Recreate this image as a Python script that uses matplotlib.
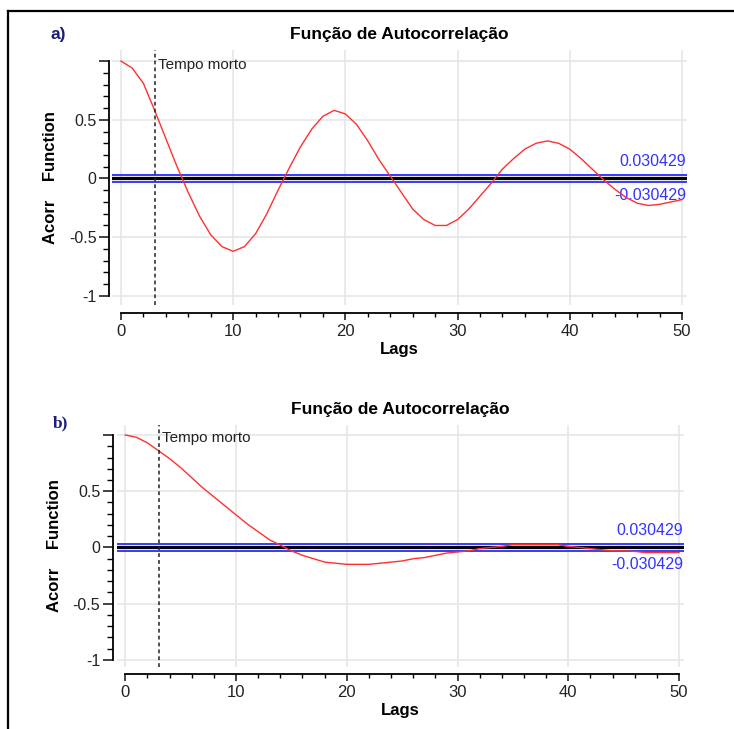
import matplotlib
matplotlib.use("Agg")
import matplotlib.pyplot as plt
from matplotlib.lines import Line2D
from matplotlib.ticker import MultipleLocator, FixedLocator
import numpy as np

plt.rcParams['font.family'] = ['Liberation Sans', 'DejaVu Sans']

lags = np.arange(0, 51)

acf_a = [1.00, 0.94, 0.81, 0.58, 0.34, 0.10, -0.12, -0.32, -0.48, -0.58,
         -0.62, -0.58, -0.47, -0.30, -0.10, 0.09, 0.27, 0.42, 0.53, 0.58,
         0.55, 0.46, 0.32, 0.16, 0.02, -0.12, -0.26, -0.35, -0.40, -0.40,
         -0.35, -0.26, -0.15, -0.04, 0.08, 0.17, 0.25, 0.30, 0.32, 0.30,
         0.25, 0.17, 0.08, -0.01, -0.09, -0.16, -0.21, -0.23, -0.22, -0.20,
         -0.18]

acf_b = [1.00, 0.98, 0.93, 0.86, 0.79, 0.71, 0.62, 0.53, 0.45, 0.37,
         0.29, 0.21, 0.14, 0.07, 0.02, -0.03, -0.07, -0.10, -0.13, -0.14,
         -0.15, -0.15, -0.15, -0.14, -0.13, -0.12, -0.10, -0.09, -0.07, -0.05,
         -0.04, -0.03, -0.01, 0.00, 0.01, 0.025, 0.025, 0.025, 0.025, 0.025,
         0.01, 0.0, -0.01, -0.02, -0.03, -0.03, -0.035, -0.045, -0.045, -0.045,
         -0.045]

conf = 0.030429
dead_time = 3
title = "Função de Autocorrelação"
xticks = [0, 10, 20, 30, 40, 50]
yticks = [-1, -0.5, 0, 0.5, 1]
ytick_labels = ["-1", "-0.5", "0", "0.5", ""]

fig = plt.figure(figsize=(7.34, 7.29), dpi=100)

# frame (top + left only)
fig.add_artist(Line2D([8/734, 1], [1 - 11/729, 1 - 11/729], color='black', lw=1.6))
fig.add_artist(Line2D([8/734, 8/734], [0, 1 - 11/729], color='black', lw=1.6))


def draw_panel(rect, acf, ylim, xlim, out_left, out_bottom, letter, letter_pos, letter_font):
    ax = fig.add_axes(rect)
    ax.set_xlim(*xlim)
    ax.set_ylim(*ylim)

    ax.grid(True, color='#e6e6e6', lw=1.2)
    ax.set_axisbelow(True)
    ax.xaxis.set_major_locator(FixedLocator(xticks))
    ax.xaxis.set_minor_locator(FixedLocator(np.arange(0, 51, 2)))
    ax.yaxis.set_major_locator(FixedLocator(yticks))
    ax.yaxis.set_minor_locator(FixedLocator(np.arange(-10, 11) / 10))
    ax.set_yticklabels(ytick_labels)
    ax.set_xticklabels([str(t) for t in xticks])

    for s in ['top', 'right']:
        ax.spines[s].set_visible(False)
    ax.spines['left'].set_bounds(-1, 1)
    ax.spines['left'].set_position(('outward', out_left))
    ax.spines['bottom'].set_bounds(0, 50)
    ax.spines['bottom'].set_position(('outward', out_bottom))
    ax.spines['left'].set_linewidth(1.3)
    ax.spines['bottom'].set_linewidth(1.3)

    ax.tick_params(axis='y', which='major', length=7, width=1.2, labelsize=11.5, colors='#222222', pad=2)
    ax.tick_params(axis='y', which='minor', length=4.5, width=1.0)
    ax.tick_params(axis='x', which='major', length=5, width=1.2, labelsize=12, colors='#222222', pad=3)
    ax.tick_params(axis='x', which='minor', length=3, width=1.0)

    ax.axhline(conf, color='#2a2aff', lw=1.3, zorder=2)
    ax.axhline(-conf, color='#2a2aff', lw=1.3, zorder=2)
    ax.axhline(0, color='black', lw=2.3, zorder=3)

    ax.plot(lags, acf, color='#ff3030', lw=1.0, zorder=4)
    ax.axvline(dead_time, color='#222222', lw=1.1, ls=(0, (2.5, 2)), zorder=4)
    ax.text(dead_time + 0.3, 0.97, "Tempo morto", fontsize=11, color='#222222',
            ha='left', va='center')

    ax.text(50.4, conf + 0.05, "0.030429", color='#3333ff', fontsize=11.5,
            ha='right', va='bottom')
    ax.text(50.4, -conf - 0.05, "-0.030429", color='#3333ff', fontsize=11.5,
            ha='right', va='top')

    ax.set_title(title, fontsize=12.5, fontweight='bold', pad=8)
    ax.set_xlabel("Lags", fontsize=12, fontweight='bold', labelpad=2)
    ax.set_ylabel("Acorr    Function", fontsize=12, fontweight='bold', labelpad=8)

    fig.text(letter_pos[0], letter_pos[1], letter, fontsize=12.5, fontweight='bold',
             color='#1c1c7a', family=letter_font, ha='left', va='center')
    return ax


draw_panel([112/734, 1 - 305/729, 575/734, 255/729], acf_a,
           (-1.077, 1.094), (-0.8, 50.45), 2, 6, "a)", (50/734, 1 - 35/729),
           ['Liberation Sans', 'DejaVu Sans'])

draw_panel([117/734, 1 - 666.7/729, 567/734, 241.7/729], acf_b,
           (-1.06, 1.089), (-0.75, 50.45), 3, 5, "b)", (53/734, 1 - 423/729),
           ['Liberation Serif', 'DejaVu Serif'])

fig.savefig("out.png", dpi=100)
